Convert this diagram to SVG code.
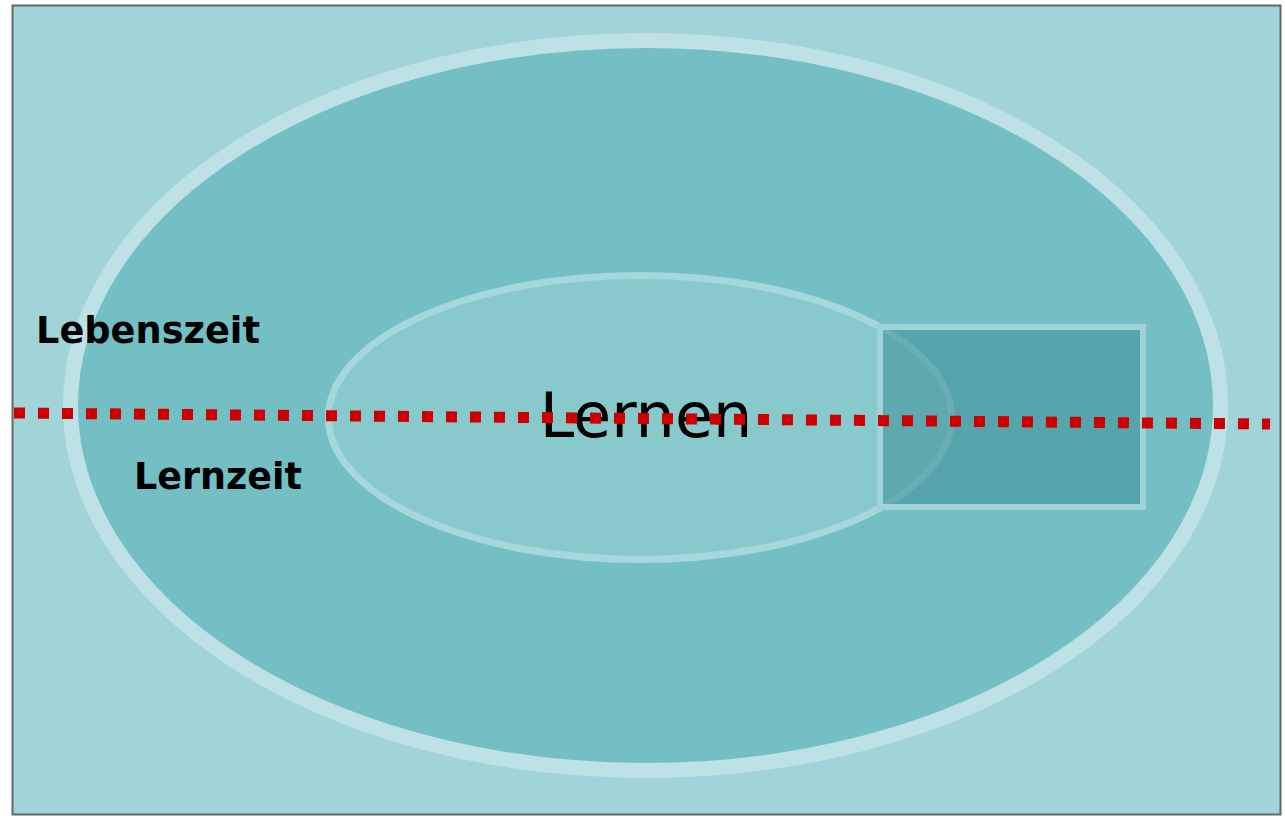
<svg xmlns="http://www.w3.org/2000/svg" width="1285" height="816" viewBox="0 0 1285 816">
<style>
.lbl{font-family:"DejaVu Sans","Verdana",sans-serif;fill:#000}
.bold{font-weight:bold;font-size:38px}
</style>
<rect x="0" y="0" width="1285" height="816" fill="#ffffff"/>
<g id="frame">
<rect x="12.5" y="5.5" width="1268" height="809" fill="#A0D4D8" stroke="#666666" stroke-width="2"/>
</g>
<g id="lebenszeit">
<ellipse cx="645.5" cy="405.5" rx="575" ry="365" fill="#73BFC4" stroke="#BDE1E5" stroke-width="15"/>
<text class="lbl bold" x="36" y="343" textLength="224" lengthAdjust="spacingAndGlyphs">Lebenszeit</text>
</g>
<g id="lernen">
<ellipse cx="640" cy="417.5" rx="311.5" ry="142" fill="#88C9CC" stroke="#A6D8DB" stroke-width="7"/>
<text class="lbl" x="646" y="437" font-size="62" text-anchor="middle">Lernen</text>
</g>
<g id="lernzeit">
<rect x="880" y="327" width="263" height="180" fill="#43959D" fill-opacity="0.62" stroke="#9FD3D7" stroke-width="6"/>
<text class="lbl bold" x="134" y="489" textLength="168" lengthAdjust="spacingAndGlyphs">Lernzeit</text>
</g>
<g id="connectors">
<line x1="14" y1="413" x2="1270" y2="424" stroke="#CC0000" stroke-width="11" stroke-dasharray="11 13"/>
</g>
</svg>
